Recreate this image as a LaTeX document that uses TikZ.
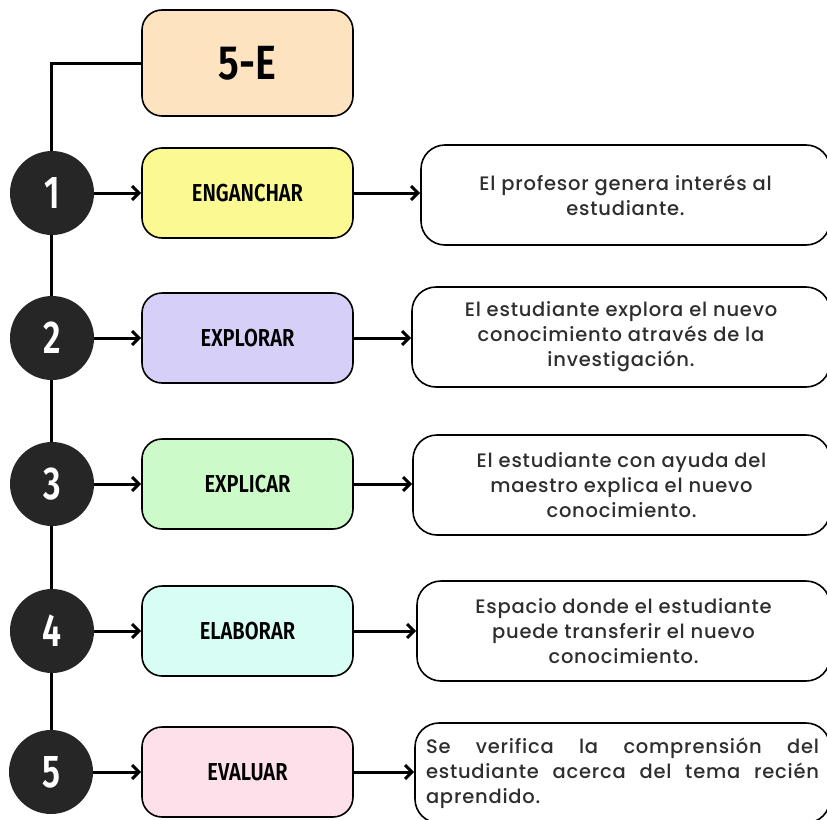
\documentclass[tikz,border=0pt]{standalone}
\usepackage{fontspec}
\setmainfont{Poppins}[UprightFont={Poppins Medium}, LetterSpace=4]
\newfontfamily\headfont{Fira Sans SemiBold}[FakeStretch=0.82]
\newfontfamily\numfont{Fira Sans SemiBold}[FakeStretch=0.74]
\usetikzlibrary{arrows.meta,backgrounds}

\definecolor{peach}{HTML}{FDE3C0}
\definecolor{lemon}{HTML}{FBF991}
\definecolor{lavender}{HTML}{D6D0F8}
\definecolor{mint}{HTML}{CCFAC8}
\definecolor{aqua}{HTML}{D8FDF5}
\definecolor{blush}{HTML}{FDE0EA}
\definecolor{ink}{HTML}{262626}
\definecolor{bodytext}{HTML}{2E2E2E}

\tikzset{
  stagebox/.style={draw=black, line width=1.6pt, rounded corners=20pt,
    minimum width=211pt, minimum height=90pt, inner sep=0pt,
    font=\headfont\fontsize{24.5}{24.5}\selectfont},
  numdot/.style={circle, fill=ink, minimum size=84pt, inner sep=0pt, text=white,
    font=\numfont\fontsize{46}{46}\selectfont},
  descbox/.style={draw=black, line width=1.6pt, rounded corners=24pt,
    minimum height=100pt, inner sep=0pt, text=bodytext, align=center,
    font=\fontsize{19.5}{25}\selectfont},
  link/.style={line width=3pt, -{Straight Barb[length=7pt,width=14pt,line width=3pt]}},
  spine/.style={line width=3pt},
}

\begin{document}
\begin{tikzpicture}[x=1pt,y=-1pt]
\useasboundingbox (0,0) rectangle (827,819);

% title
\node[stagebox, fill=peach, minimum height=106pt,
  font=\headfont\fontsize{48}{48}\selectfont] (title) at (247.5,63) {5-E};

% numbered markers
\node[numdot] (c1) at (52,193) {1};
\node[numdot] (c2) at (52,338) {2};
\node[numdot] (c3) at (52,484) {3};
\node[numdot] (c4) at (52,631) {4};
\node[numdot] (c5) at (51,772) {5};

% stages
\node[stagebox, fill=lemon]    (s1) at (247.5,193) {ENGANCHAR};
\node[stagebox, fill=lavender] (s2) at (247.5,338) {EXPLORAR};
\node[stagebox, fill=mint]     (s3) at (247.5,484) {EXPLICAR};
\node[stagebox, fill=aqua]     (s4) at (247.5,631) {ELABORAR};
\node[stagebox, fill=blush]    (s5) at (247.5,772) {EVALUAR};

% descriptions
\node[descbox, minimum width=409pt] (d1) at (625.5,195)
  {El profesor genera interés al\\estudiante.};
\node[descbox, minimum width=418pt] (d2) at (621,337)
  {El estudiante explora el nuevo\\conocimiento através de la\\investigación.};
\node[descbox, minimum width=417pt] (d3) at (621.5,485)
  {El estudiante con ayuda del\\maestro explica el nuevo\\conocimiento.};
\node[descbox, minimum width=413pt] (d4) at (623.5,631)
  {Espacio donde el estudiante\\puede transferir el nuevo\\conocimiento.};
\node[descbox, minimum width=415pt, text width=393pt, align=justify] (d5) at (622.5,773)
  {Se verifica la comprensión del\linebreak estudiante acerca del tema recién\linebreak aprendido.};

% spine joining the title and the markers
\begin{scope}[on background layer]
  \draw[spine] (title.west) -| (c5.center);
\end{scope}

% connectors
\foreach \i in {1,...,5} {
  \draw[link] (c\i) -- (s\i);
  \draw[link] (s\i.east) -- (d\i.west |- s\i.east);
}
\end{tikzpicture}
\end{document}
